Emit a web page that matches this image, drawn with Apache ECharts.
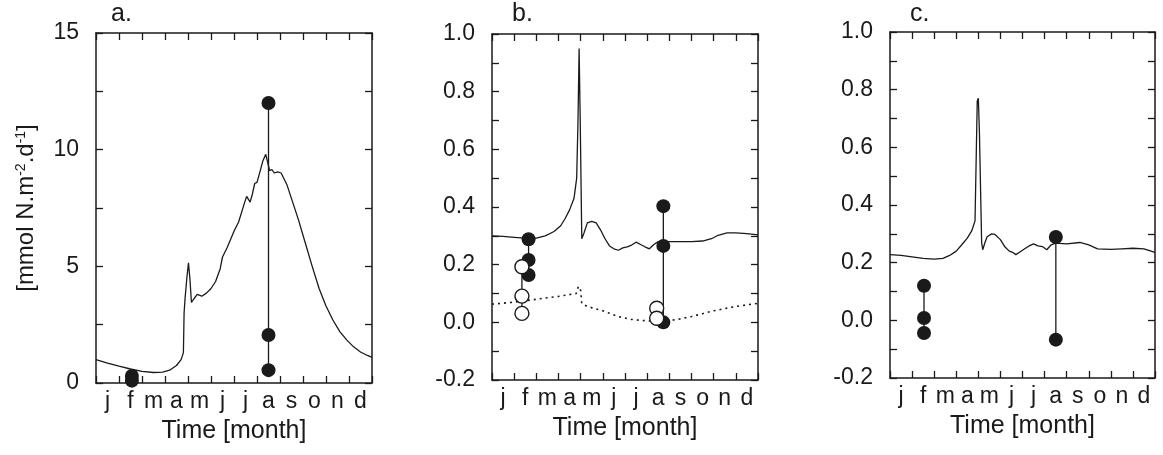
<!DOCTYPE html>
<html>
<head>
<meta charset="utf-8">
<script src="https://cdn.jsdelivr.net/npm/echarts@6/dist/echarts.min.js"></script>
<style>
html,body{margin:0;padding:0;background:#fff;}
#c{width:1163px;height:455px;}
</style>
</head>
<body>
<div id="c"></div>
<script>
// ---------- DATA ----------
const MONTHS = ['j','f','m','a','m','j','j','a','s','o','n','d'];
const PANEL_LABELS = ['a.', 'b.', 'c.'];
const Y_TITLE = '[mmol N.m{sup|-2}.d{sup|-1}]';
const X_TITLE = 'Time [month]';

// Panel a: model curve [month, value]
const A_MODEL = [
  [0,1.0],[0.5,0.85],[1.0,0.72],[1.5,0.6],[2.0,0.5],[2.5,0.45],[2.9,0.47],[3.2,0.55],
  [3.5,0.75],[3.7,1.0],[3.8,1.3],[3.83,3.0],[3.87,3.6],[3.95,4.5],[4.02,5.15],[4.08,4.5],
  [4.15,3.45],[4.25,3.6],[4.4,3.8],[4.6,3.72],[4.8,3.85],[5.0,4.05],[5.2,4.35],[5.4,4.9],
  [5.5,5.4],[5.7,5.8],[6.0,6.5],[6.2,6.9],[6.45,7.7],[6.55,8.0],[6.7,7.75],[6.8,8.1],
  [6.9,8.55],[7.0,8.6],[7.1,8.95],[7.25,9.5],[7.38,9.8],[7.45,9.75],[7.55,9.1],[7.65,9.15],
  [7.75,9.0],[7.9,9.05],[8.05,9.0],[8.3,8.5],[8.5,7.9],[8.8,7.0],[9.1,6.0],[9.4,5.0],
  [9.7,4.05],[10.0,3.3],[10.3,2.7],[10.6,2.2],[10.9,1.85],[11.2,1.55],[11.5,1.33],
  [11.8,1.18],[12.0,1.1]
];
const A_OBS_T = [1.56, 7.5];
const A_OBS_V = [[0.3, 0.1], [12.0, 2.06, 0.55]];

// Panel b: model curves
const B_MODEL = [
  [0,0.30],[0.5,0.298],[1.0,0.295],[1.5,0.292],[2.0,0.292],[2.4,0.30],[2.8,0.315],
  [3.1,0.335],[3.3,0.36],[3.5,0.39],[3.7,0.43],[3.82,0.5],[3.88,0.7],[3.93,0.95],
  [3.98,0.7],[4.05,0.29],[4.15,0.31],[4.3,0.345],[4.5,0.35],[4.7,0.345],[4.9,0.32],
  [5.1,0.29],[5.3,0.265],[5.5,0.255],[5.7,0.25],[5.9,0.258],[6.1,0.262],[6.3,0.268],
  [6.5,0.278],[6.7,0.27],[6.9,0.262],[7.1,0.255],[7.3,0.27],[7.5,0.28],[7.9,0.28],
  [8.5,0.28],[9.0,0.28],[9.5,0.282],[9.9,0.29],[10.2,0.302],[10.6,0.31],[11.0,0.31],
  [11.5,0.308],[12,0.303]
];
const B_MODEL2 = [
  [0,0.063],[1.0,0.07],[2.0,0.08],[3.0,0.09],[3.8,0.1],[3.9,0.125],[3.95,0.13],[4.0,0.11],
  [4.05,0.065],[4.3,0.055],[5.0,0.04],[5.7,0.02],[6.3,0.01],[7.0,0.005],[7.5,0.003],
  [8.0,0.006],[8.5,0.012],[9.0,0.02],[9.5,0.03],[10,0.04],[11,0.055],[12,0.066]
];
const B_FILLED_T = [1.65, 7.73];
const B_FILLED_V = [[0.288, 0.216, 0.164], [0.403, 0.265, 0.0]];
const B_OPEN_T = [1.35, 7.43];
const B_OPEN_V = [[0.193, 0.091, 0.031], [0.049, 0.014]];

// Panel c: model curve
const C_MODEL = [
  [0,0.228],[0.5,0.225],[1.0,0.22],[1.5,0.215],[2.0,0.212],[2.4,0.215],[2.7,0.225],
  [3.0,0.24],[3.25,0.262],[3.5,0.285],[3.7,0.31],[3.85,0.345],[3.9,0.55],[3.95,0.76],
  [4.0,0.77],[4.05,0.65],[4.15,0.27],[4.2,0.245],[4.3,0.27],[4.4,0.29],[4.6,0.3],
  [4.75,0.298],[5.0,0.28],[5.2,0.255],[5.4,0.24],[5.55,0.236],[5.7,0.228],[5.9,0.238],
  [6.1,0.248],[6.3,0.258],[6.5,0.265],[6.7,0.258],[6.9,0.256],[7.1,0.245],[7.3,0.262],
  [7.5,0.268],[8.0,0.265],[8.6,0.27],[9.0,0.262],[9.4,0.248],[10.0,0.246],[10.5,0.248],
  [11.0,0.25],[11.5,0.248],[12,0.236]
];
const C_OBS_T = [1.54, 7.51];
const C_OBS_V = [[0.12, 0.008, -0.044], [0.289, -0.067]];

// ---------- BUILD ----------
const INK = '#1a1a1a';
const FONT = 'Liberation Sans, Arial, Helvetica, sans-serif';

const grids = [
  {left: 96, right: 791, top: 33, bottom: 72},
  {left: 492, right: 405, top: 34, bottom: 75},
  {left: 890, right: 8, top: 32, bottom: 77}
];
const yRanges = [
  {min: 0, max: 15, interval: 2.5, fmt: v => (Math.round(v*10) % 50 === 0 ? String(Math.round(v)) : '')},
  {min: -0.2, max: 1.0, interval: 0.1, fmt: v => { const k = Math.round(v*10); return k % 2 === 0 ? (k/10).toFixed(1) : ''; }},
  {min: -0.2, max: 1.0, interval: 0.1, fmt: v => { const k = Math.round(v*10); return k % 2 === 0 ? (k/10).toFixed(1) : ''; }}
];

const xAxes = [], yAxes = [], series = [], titles = [];
const lineAx = {show: true, onZero: false, lineStyle: {color: INK, width: 1.5}};
const tickAx = {show: true, inside: true, length: 7, lineStyle: {color: INK, width: 1.3}};

grids.forEach((g, gi) => {
  xAxes.push({gridIndex: gi, type: 'value', min: 0, max: 12, interval: 1, position: 'bottom',
    axisLine: lineAx, axisTick: tickAx, axisLabel: {show: false}, splitLine: {show: false}});
  xAxes.push({gridIndex: gi, type: 'value', min: 0, max: 12, interval: 1, position: 'top',
    axisLine: lineAx, axisTick: tickAx, axisLabel: {show: false}, splitLine: {show: false}});
  xAxes.push({gridIndex: gi, type: 'category', data: MONTHS, position: 'bottom', boundaryGap: true,
    axisLine: {show: false, onZero: false}, axisTick: {show: false}, splitLine: {show: false},
    axisLabel: {color: INK, fontSize: 23, fontFamily: FONT, margin: 7, interval: 0},
    name: X_TITLE, nameLocation: 'middle', nameGap: 36,
    nameTextStyle: {color: INK, fontSize: 25, fontFamily: FONT}});
  const yr = yRanges[gi];
  const left = {gridIndex: gi, type: 'value', min: yr.min, max: yr.max, interval: yr.interval, position: 'left',
    axisLine: lineAx, axisTick: tickAx, splitLine: {show: false},
    axisLabel: {color: INK, fontSize: 23, fontFamily: FONT, margin: 17, formatter: yr.fmt}};
  if (gi === 0) {
    left.name = Y_TITLE;
    left.nameLocation = 'middle';
    left.nameGap = 58;
    left.nameTextStyle = {color: INK, fontSize: 24, fontFamily: FONT,
      rich: {sup: {fontSize: 14, fontFamily: FONT, color: INK, verticalAlign: 'top', padding: [0,0,10,0]}}};
  }
  yAxes.push(left);
  yAxes.push({gridIndex: gi, type: 'value', min: yr.min, max: yr.max, interval: yr.interval, position: 'right',
    axisLine: lineAx, axisTick: tickAx, axisLabel: {show: false}, splitLine: {show: false}});
});

titles.push({text: PANEL_LABELS[0], left: 111, top: 2});
titles.push({text: PANEL_LABELS[1], left: 512, top: 2});
titles.push({text: PANEL_LABELS[2], left: 910, top: 2});
titles.forEach(t => { t.textStyle = {color: INK, fontSize: 25, fontWeight: 'normal', fontFamily: FONT}; t.padding = 0; });

function modelLine(gi, data, dashed) {
  series.push({type: 'line', xAxisIndex: gi*3, yAxisIndex: gi*2, data: data, showSymbol: false,
    symbol: 'none', silent: true, z: 2,
    lineStyle: {color: INK, width: dashed ? 1.6 : 1.3, type: dashed ? [2, 4] : 'solid'}});
}
function obs(gi, ts, vs, open) {
  ts.forEach((t, i) => {
    const vals = vs[i];
    const lo = Math.min.apply(null, vals), hi = Math.max.apply(null, vals);
    series.push({type: 'line', xAxisIndex: gi*3, yAxisIndex: gi*2, data: [[t, lo], [t, hi]],
      symbol: 'none', silent: true, z: 3, lineStyle: {color: INK, width: 1.3}});
  });
  const pts = [];
  ts.forEach((t, i) => vs[i].forEach(v => pts.push([t, v])));
  series.push({type: 'scatter', xAxisIndex: gi*3, yAxisIndex: gi*2, data: pts, symbolSize: 14,
    silent: true, z: open ? 5 : 4,
    itemStyle: open ? {color: '#fff', borderColor: INK, borderWidth: 1.4, opacity: 1}
                    : {color: INK, opacity: 1}});
}

modelLine(0, A_MODEL, false);
obs(0, A_OBS_T, A_OBS_V, false);
modelLine(1, B_MODEL, false);
modelLine(1, B_MODEL2, true);
obs(1, B_FILLED_T, B_FILLED_V, false);
obs(1, B_OPEN_T, B_OPEN_V, true);
modelLine(2, C_MODEL, false);
obs(2, C_OBS_T, C_OBS_V, false);

const chart = echarts.init(document.getElementById('c'), null, {renderer: 'canvas'});
chart.setOption({
  backgroundColor: '#fff',
  animation: false,
  title: titles,
  grid: grids,
  xAxis: xAxes,
  yAxis: yAxes,
  series: series
});
</script>
</body>
</html>
